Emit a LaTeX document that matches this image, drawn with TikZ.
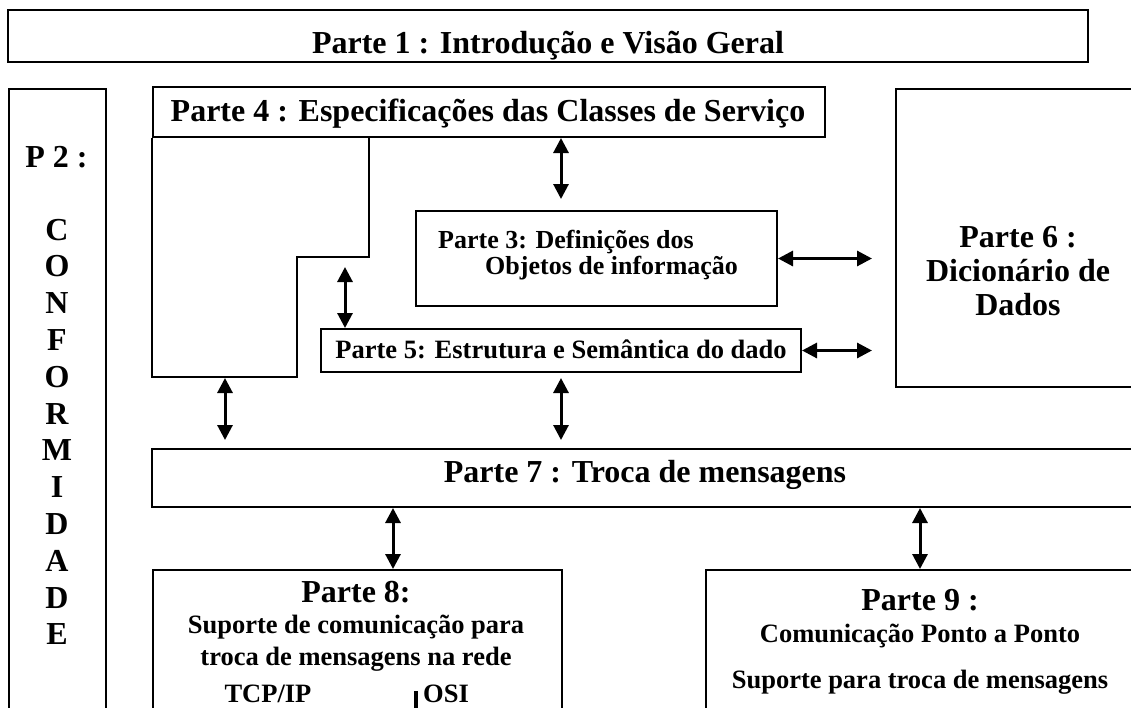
\documentclass[tikz,border=0pt]{standalone}
\usepackage{fontspec}
\setmainfont{Liberation Serif}
\usetikzlibrary{arrows.meta,calc}
\newcommand{\fsz}[1]{\fontsize{#1}{#1}\selectfont\bfseries}
\tikzset{
    box/.style={draw, line width=2pt, inner sep=0pt},
    lbl/.style={inner sep=0pt, anchor=base},
    big/.style={lbl, font=\fsz{32}},
    small/.style={lbl, font=\fsz{26.5}},
    dbl/.style={{Triangle[width=15pt,length=15pt]}-{Triangle[width=15pt,length=15pt]}, line width=3pt}
}
\begin{document}
\begin{tikzpicture}[x=1pt,y=-1pt]
        \useasboundingbox (0,0) rectangle (1131,707);
        \clip (0,0) rectangle (1131,707);
        \node[box, minimum width=1080pt, minimum height=52pt] (p1) at (548,36) {};
        \node[big] (p1t) at (548,53) {Parte 1 : Introdução e Visão Geral};
        \node[box, anchor=north west, minimum width=97pt, minimum height=700pt] (p2) at (8,88) {};
        \node[big] (p2t) at (56.5,167) {P 2 :};
        \foreach \c [count=\i] in {C,O,N,F,O,R,M,I,D,A,D,E}
            \node[big] (p2c\i) at (57,{240+36.8*(\i-1)}) {\c};
        \node[box, minimum width=672pt, minimum height=50pt] (p4) at (489,112) {};
        \node[big] (p4t) at (488,121) {Parte 4 : Especificações das Classes de Serviço};
        \draw[line width=2pt] (p4.south west) |- (297,377) |- (369,257) -- (369,137);
        \coordinate (step) at (345,257);
        \coordinate (lfoot) at (225,377);
        \node[box, minimum width=361pt, minimum height=95pt] (p3) at (596.5,258.5) {};
        \node[small, anchor=base west, font=\fsz{26}] (p3a) at (438,248) {Parte 3: Definições dos};
        \node[small, anchor=base west, font=\fsz{26}] (p3b) at (485,274) {Objetos de informação};
        \node[box, minimum width=480pt, minimum height=43pt] (p5) at (561,350.5) {};
        \node[small] (p5t) at (561,358) {Parte 5: Estrutura e Semântica do dado};
        \node[box, minimum width=244pt, minimum height=298pt] (p6) at (1018,238) {};
        \node[big] (p6a) at (1018,247) {Parte 6 :};
        \node[big] (p6b) at (1018,281) {Dicionário de};
        \node[big] (p6c) at (1018,315) {Dados};
        \node[box, minimum width=986pt, minimum height=58pt] (p7) at (645,478) {};
        \node[big] (p7t) at (645,482) {Parte 7 : Troca de mensagens};
        \node[box, anchor=north west, minimum width=409pt, minimum height=240pt] (p8) at (152,569) {};
        \node[big] (p8t) at (356,602) {Parte 8:};
        \node[small] (p8a) at (356,633) {Suporte de comunicação para};
        \node[small] (p8b) at (356,665) {troca de mensagens na rede};
        \node[small] (tcp) at (268,702) {TCP/IP};
        \node[small, anchor=base west] (osi) at (423,702) {OSI};
        \draw[line width=4pt] (416,691) -- (416,715);
        \coordinate (c8) at (393,0);
        \node[box, anchor=north west, minimum width=430pt, minimum height=240pt] (p9) at (705,569) {};
        \node[big] (p9t) at (920,610) {Parte 9 :};
        \node[small] (p9a) at (920,642) {Comunicação Ponto a Ponto};
        \node[small] (p9b) at (920,688) {Suporte para troca de mensagens};
        \draw[dbl, shorten >=11pt] (p4.south -| p5.north) -- (p3.north -| p5.north);
        \draw[dbl, shorten <=10pt] (step) -- (p5.north -| step);
        \draw[dbl, shorten >=23pt] (p3.east) -- (p6.west |- p3.east);
        \draw[dbl, shorten >=23pt] (p5.east) -- (p6.west |- p5.east);
        \draw[dbl, shorten <=1pt, shorten >=8pt] (lfoot) -- (p7.north -| lfoot);
        \draw[dbl, shorten <=5pt, shorten >=8pt] (p5.south) -- (p7.north -| p5.south);
        \draw[dbl] (p7.south -| c8) -- (p8.north -| c8);
        \draw[dbl] (p7.south -| p9t) -- (p9.north -| p9t);
    \end{tikzpicture}
\end{document}
